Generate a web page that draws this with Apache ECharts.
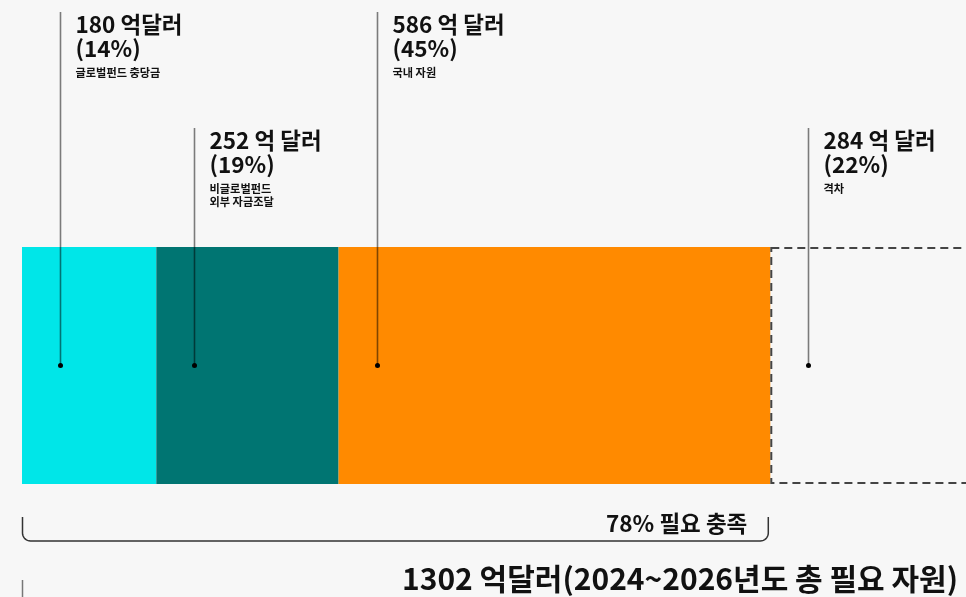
<!DOCTYPE html>
<html><head><meta charset="utf-8">
<script src="https://cdn.jsdelivr.net/npm/echarts@6/dist/echarts.min.js"></script>
<style>html,body{margin:0;padding:0;background:#f7f7f7}#c{width:966px;height:597px}</style>
</head><body><div id="c"></div>
<script>
const categories = ['글로벌펀드 충당금', '비글로벌펀드\n외부 자금조달', '국내 자원', '격차'];
const amountLabels = ['180 억달러', '252 억 달러', '586 억 달러', '284 억 달러'];
const amounts = [180, 252, 586, 284];
const shares = [14, 19, 45, 22];
const shareLabels = ['(14%)', '(19%)', '(45%)', '(22%)'];
const coveredLabel = '78% 필요 충족';
const totalLabel = '1302 억달러(2024~2026년도 총 필요 자원)';
const colors = ['#00e6e8', '#007572', '#ff8a00', 'transparent'];

const FONT = '"Noto Sans CJK KR", "Noto Sans", sans-serif';
const chart = echarts.init(document.getElementById('c'), null, {renderer: 'canvas'});

const series = shares.map((v, i) => ({
  type: 'bar', stack: 'all', name: categories[i], data: [v], barWidth: '100%', clip: false,
  itemStyle: i === 3
    ? {color: 'rgba(0,0,0,0)', borderColor: '#444', borderWidth: 2, borderType: [8, 5]}
    : {color: colors[i]},
  emphasis: {disabled: true}, silent: true
}));

chart.setOption({
  backgroundColor: '#f7f7f7',
  animation: false,
  grid: {left: 22, top: 247, right: 0, height: 237, containLabel: false},
  xAxis: {type: 'value', min: 0, max: 98.4, show: false},
  yAxis: {type: 'category', data: ['total'], show: false},
  series: series
});

const starts = [];
let acc = 0;
shares.forEach(v => { starts.push(acc); acc += v; });
const yMid = chart.convertToPixel({yAxisIndex: 0}, 'total');
const gfx = [];
const tops = [12, 128, 12, 128];
function txt(x, y, s, size, extra) {
  return {type: 'text', z: 100, x: x, y: y, style: Object.assign({text: s, fontFamily: FONT, fontWeight: 'bold', fontSize: size, fill: '#111', textVerticalAlign: 'middle'}, extra || {})};
}
starts.forEach((s, i) => {
  const x = Math.round(chart.convertToPixel({xAxisIndex: 0}, s)) + 38.5;
  const top = tops[i];
  gfx.push({type: 'line', z: 100, shape: {x1: x, y1: top, x2: x, y2: yMid},
    style: {stroke: 'rgba(0,0,0,0.5)', lineWidth: 1.6}});
  gfx.push({type: 'circle', z: 101, shape: {cx: x, cy: yMid, r: 2.5}, style: {fill: '#000'}});
  const tx = x + 15;
  gfx.push(txt(tx, top + 12, amountLabels[i], 22.5));
  gfx.push(txt(tx, top + 36, shareLabels[i], 22.5));
  gfx.push(txt(tx, top + 54, categories[i], 11.2, {lineHeight: 13, textVerticalAlign: 'top'}));
});

const bx0 = chart.convertToPixel({xAxisIndex: 0}, 0) + 0.5;
const bx1 = chart.convertToPixel({xAxisIndex: 0}, shares[0] + shares[1] + shares[2]) - 2;
const by = 541, bt = 517, r = 8;
function corner(cx, cy, a0, a1) {
  const pts = [];
  for (let k = 0; k <= 8; k++) { const a = a0 + (a1 - a0) * k / 8; pts.push([cx + r * Math.cos(a), cy + r * Math.sin(a)]); }
  return pts;
}
const bracketPts = [[bx0, bt]].concat(corner(bx0 + r, by - r, Math.PI, Math.PI / 2), corner(bx1 - r, by - r, Math.PI / 2, 0), [[bx1, bt]]);
gfx.push({type: 'polyline', z: 100, shape: {points: bracketPts}, style: {stroke: '#333', lineWidth: 1.5, fill: null}});
gfx.push(txt(bx1 - 21, 523, coveredLabel, 22.5, {textAlign: 'right'}));

gfx.push({type: 'line', z: 100, shape: {x1: bx0, y1: 580, x2: bx0, y2: 600}, style: {stroke: '#777', lineWidth: 1.5}});
gfx.push(txt(958, 579, totalLabel, 30, {textAlign: 'right'}));

chart.setOption({graphic: {elements: gfx}});
</script>
</body></html>
